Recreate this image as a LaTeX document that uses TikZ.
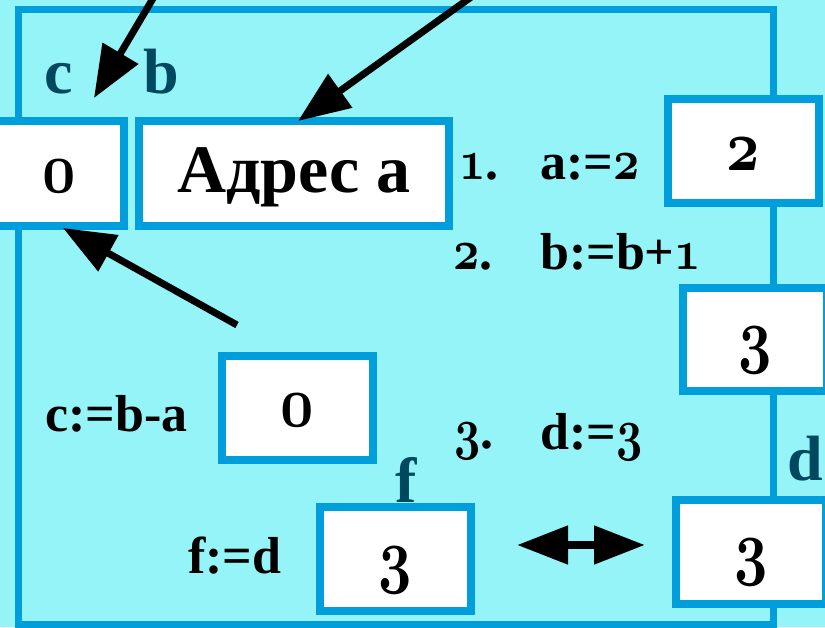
\documentclass[tikz,border=0pt]{standalone}
\usepackage{graphicx}
\usepackage{fontspec}
\setmainfont{Liberation Serif}
\usetikzlibrary{arrows.meta}
\definecolor{bgc}{RGB}{148,244,247}
\definecolor{boxblue}{RGB}{0,158,218}
\definecolor{labteal}{RGB}{0,72,96}
\DeclareFontFamily{OML}{oldfig}{}
\DeclareFontShape{OML}{oldfig}{b}{it}{<->cmmib10}{}
\newcommand\osf[1]{\scalebox{0.88}[1.1]{\fontencoding{OML}\fontfamily{oldfig}\fontseries{b}\fontshape{it}\selectfont #1}}
\tikzset{
 cell/.style={draw=boxblue, line width=7.5pt, fill=white, inner sep=0pt, outer sep=0pt},
 instr/.style={anchor=base west, inner sep=0pt, font=\fontsize{52}{60}\selectfont\bfseries},
 val/.style={anchor=base, inner sep=0pt, font=\fontsize{66}{78}\selectfont\bfseries},
 varlab/.style={anchor=base, inner sep=0pt, text=labteal, font=\fontsize{64}{76}\selectfont\bfseries},
 ptr/.style={line width=7pt, -{Triangle[length=52pt,width=40pt]}},
 dptr/.style={line width=8pt, {Triangle[length=51pt,width=37pt]}-{Triangle[length=51pt,width=37pt]}},
 frame/.style={draw=boxblue, line width=7pt},
}
\begin{document}
\begin{tikzpicture}[x=1pt,y=-1pt]
\path[use as bounding box] (0,0) rectangle (825,627);
\clip (0,0) rectangle (825,627);
\fill[bgc] (0,0) rectangle (825,627);
% frame
\draw[frame] (18,9.5) rectangle (773.5,624);
% boxes
\node[cell, minimum width=130pt, minimum height=105pt] (cbox) at (59,173.5) {};
\node[cell, minimum width=310pt, minimum height=105pt] (bbox) at (294,173.5) {};
\node[cell, minimum width=151pt, minimum height=104pt] (abox) at (743.5,151) {};
\node[cell, minimum width=144pt, minimum height=103pt] (b2box) at (755,339.5) {};
\node[cell, minimum width=151pt, minimum height=104pt] (rbox) at (297.5,408) {};
\node[cell, minimum width=151pt, minimum height=104pt] (fbox) at (395.5,559) {};
\node[cell, minimum width=150pt, minimum height=104pt] (dbox) at (751,552) {};
% values
\node[val] (cval) at (59,192) {\osf{0}};
\node[val, font=\fontsize{68}{80}\selectfont\bfseries] (bval) at (294,192) {Адрес а};
\node[val] (aval) at (743,170) {\osf{2}};
\node[val] (b2val) at (755,359) {\osf{3}};
\node[val] (rval) at (297,426) {\osf{0}};
\node[val] (fval) at (395,579) {\osf{3}};
\node[val] (dval) at (751,571) {\osf{3}};
% variable labels
\node[varlab] (clab) at (59,93) {c};
\node[varlab] (blab) at (161,93) {b};
\node[varlab] (flab) at (406,502) {f};
\node[varlab] (dlab) at (805,480) {d};
% instructions
\node[instr] (n1) at (459,179) {\osf{1}.};
\node[instr] (i1) at (540,179) {a:=\osf{2}};
\node[instr] (n2) at (453,269) {\osf{2}.};
\node[instr] (i2) at (540,269) {b:=b+\osf{1}};
\node[instr] (n3) at (454,448) {\osf{3}.};
\node[instr] (i3) at (540,449) {d:=\osf{3}};
\node[instr] (i4) at (45,431) {c:=b-a};
\node[instr] (i5) at (188,573) {f:=d};
% arrows
\coordinate (p1s) at (158,-10);
\coordinate (p1e) at (94,98);
\coordinate (p2s) at (481,-10);
\coordinate (p2e) at (298,121);
\coordinate (p3s) at (237,325);
\coordinate (p3e) at (63,228);
\coordinate (dl) at (517,545);
\coordinate (dr) at (645,545);
\draw[ptr] (p1s) -- (p1e);
\draw[ptr] (p2s) -- (p2e);
\draw[ptr] (p3s) -- (p3e);
\draw[dptr] (dl) -- (dr);
\end{tikzpicture}
\end{document}
